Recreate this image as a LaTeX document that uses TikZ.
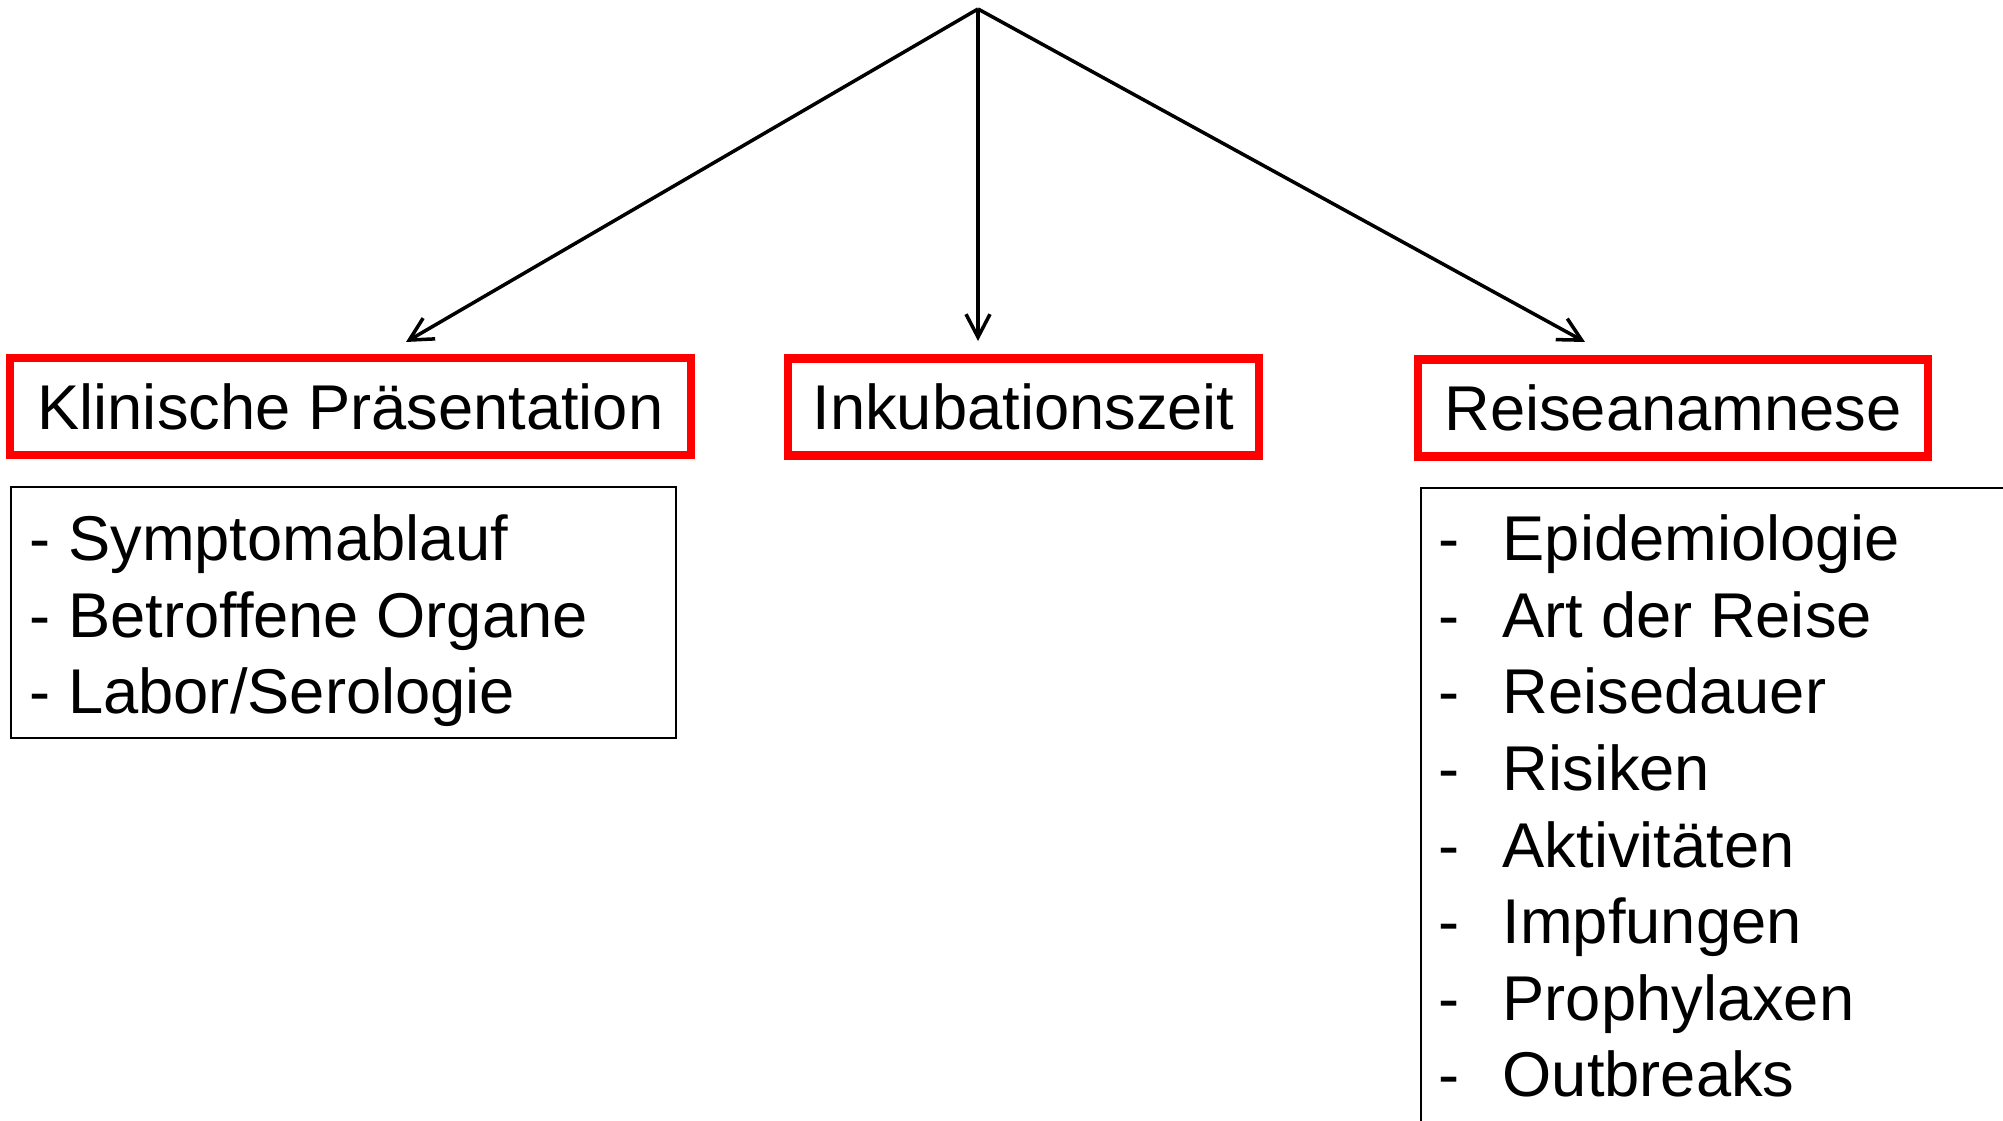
\documentclass[tikz,border=0pt]{standalone}
\usepackage{fontspec}
\setmainfont{Liberation Sans}
\usetikzlibrary{arrows.meta}

\newcommand\strich{\makebox[0.64cm][l]{-}}

\tikzset{
  redbox/.style={draw=red, line width=2.3pt, minimum height=0.97cm, inner sep=0pt, font=\fontsize{18}{21.8}\selectfont},
  listbox/.style={draw=black, line width=0.55pt, inner sep=0pt},
  listtext/.style={inner sep=0pt, anchor=north west, align=left, font=\fontsize{18}{21.8}\selectfont},
  pfeil/.style={line width=1pt, -{Straight Barb[length=2.3mm,width=2.4mm]}}
}

\begin{document}
\begin{tikzpicture}
\useasboundingbox (0,0) rectangle (20.03,11.21);
\clip (0,0) rectangle (20.03,11.21);

% Kategorien
\node[redbox, minimum width=6.81cm] (klinik) at (3.505,7.145) {Klinische Präsentation};
\node[redbox, minimum width=4.71cm] (inkub) at (10.235,7.14) {Inkubationszeit};
\node[redbox, minimum width=5.10cm] (reise) at (16.73,7.13) {Reiseanamnese};

% Listen
\node[listbox, minimum width=6.65cm, minimum height=2.51cm] (klinikbox) at (3.435,5.085) {};
\node[listtext] (klinikliste) at (0.29,6.07) {- Symptomablauf\\- Betroffene Organe\\- Labor/Serologie};

\node[listbox, anchor=north west, minimum width=7cm, minimum height=7cm] (reisebox) at (14.20,6.34) {};
\node[listtext] (reiseliste) at (14.38,6.07) {\strich Epidemiologie\\\strich Art der Reise\\\strich Reisedauer\\\strich Risiken\\\strich Aktivitäten\\\strich Impfungen\\\strich Prophylaxen\\\strich Outbreaks};

% Pfeile
\coordinate (spitze) at (9.78,11.12);
\coordinate (klinikpfeil) at (4.06,7.79);
\coordinate (inkubpfeil) at (9.78,7.80);
\coordinate (reisepfeil) at (15.85,7.79);
\draw[pfeil] (spitze) -- (klinikpfeil);
\draw[pfeil] (spitze) -- (inkubpfeil);
\draw[pfeil] (spitze) -- (reisepfeil);
\end{tikzpicture}
\end{document}
